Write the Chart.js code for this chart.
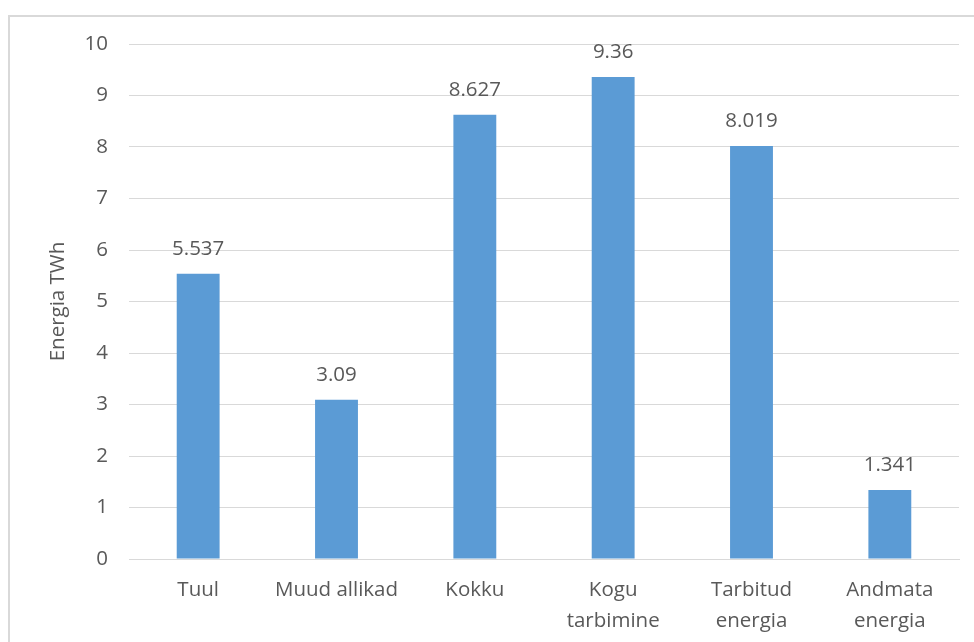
<!DOCTYPE html>
<html>
<head>
<meta charset="utf-8">
<script src="https://cdn.jsdelivr.net/npm/chart.js@4/dist/chart.umd.min.js"></script>
<style>
  html, body { margin: 0; padding: 0; background: #fff; }
  #wrap { width: 974px; height: 642px; position: relative; }
</style>
</head>
<body>
<div id="wrap"><canvas id="energyChart" width="974" height="642"></canvas></div>
<script>
// data
const categories = ['Tuul', 'Muud allikad', 'Kokku', ['Kogu', 'tarbimine'], ['Tarbitud', 'energia'], ['Andmata', 'energia']]
const energyValues = [5.537, 3.09, 8.627, 9.36, 8.019, 1.341]
const valueLabels = ['5.537', '3.09', '8.627', '9.36', '8.019', '1.341']
const yTicks = [0, 1, 2, 3, 4, 5, 6, 7, 8, 9, 10]

const textColor = '#595959'
const gridColor = '#d9d9d9'
const fontFamily = '"Open Sans", "Liberation Sans", sans-serif'
const fontSize = 20.5

// outer frame of the chart object
const framePlugin = {
    id: 'frame',
    beforeDraw(chart){
        const c = chart.ctx
        c.save()
        c.fillStyle = '#fff'
        c.fillRect(0, 0, chart.width, chart.height)
        c.strokeStyle = gridColor
        c.lineWidth = 2
        c.strokeRect(9, 16, chart.width + 20, chart.height + 20)
        c.restore()
    }
}

// value labels above each bar
const valueLabelPlugin = {
    id: 'valueLabels',
    afterDatasetsDraw(chart){
        const c = chart.ctx
        const meta = chart.getDatasetMeta(0)
        c.save()
        c.fillStyle = textColor
        c.font = fontSize + 'px ' + fontFamily
        c.textAlign = 'center'
        c.textBaseline = 'middle'
        meta.data.forEach((bar, i) => {
            c.fillText(valueLabels[i], bar.x, bar.y - 25)
        })
        c.restore()
    }
}

const ctx = document.getElementById('energyChart').getContext('2d')
const energyChart = new Chart(ctx, {
    type: 'bar',
    data: {
        labels: categories,
        datasets: [{
            data: energyValues,
            backgroundColor: '#5b9bd5',
            borderWidth: 0,
            barPercentage: 0.62,
            categoryPercentage: 0.5
        }]
    },
    options: {
        responsive: false,
        animation: false,
        layout: { padding: { left: 0, top: 44, right: 15, bottom: 0 } },
        plugins: {
            legend: { display: false },
            tooltip: { enabled: false }
        },
        scales: {
            y: {
                min: 0,
                max: 10,
                afterBuildTicks: axis => { axis.ticks = yTicks.map(v => ({ value: v })) },
                afterFit: axis => { axis.width = 129 },
                ticks: {
                    color: textColor,
                    font: { family: fontFamily, size: fontSize },
                    padding: 21
                },
                grid: {
                    color: gridColor,
                    lineWidth: 1,
                    drawTicks: false
                },
                border: { display: false },
                title: {
                    display: true,
                    text: 'Energia TWh',
                    color: textColor,
                    font: { family: fontFamily, size: fontSize },
                    padding: { top: 46, bottom: 0 }
                }
            },
            x: {
                afterFit: axis => { axis.height = 83 },
                ticks: {
                    color: textColor,
                    font: { family: fontFamily, size: fontSize, lineHeight: 1.5 },
                    padding: 16,
                    maxRotation: 0,
                    autoSkip: false
                },
                grid: { display: false, drawTicks: false },
                border: { display: true, color: gridColor, width: 1 }
            }
        }
    },
    plugins: [framePlugin, valueLabelPlugin]
})
</script>
</body>
</html>
